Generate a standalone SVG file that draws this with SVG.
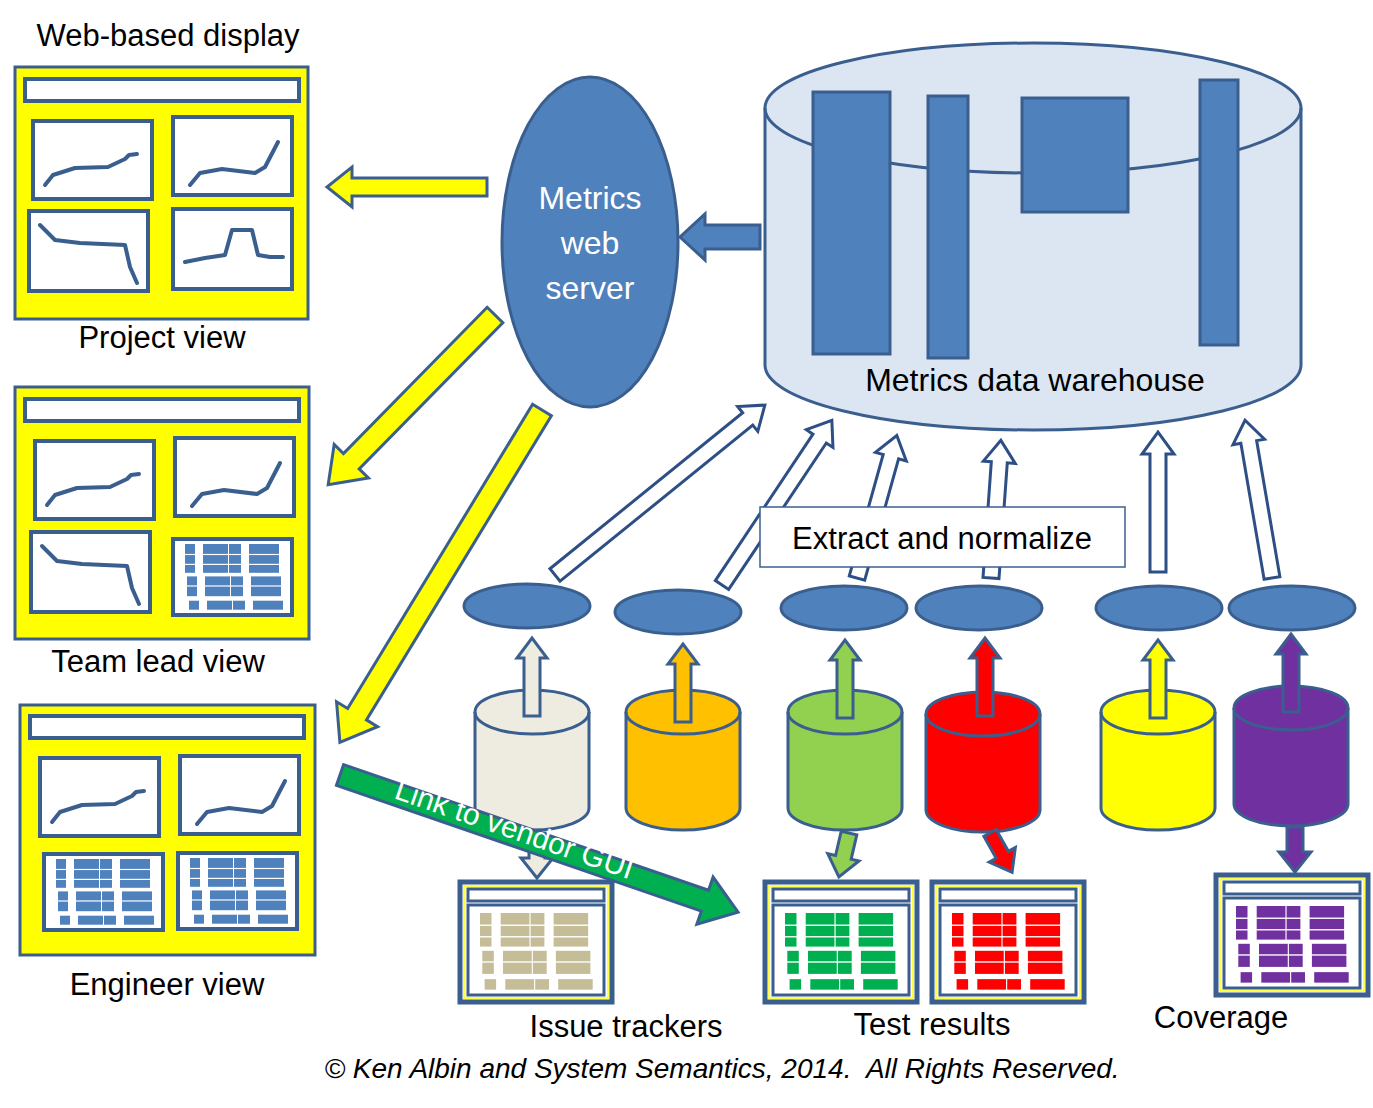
<svg xmlns="http://www.w3.org/2000/svg" xmlns:xlink="http://www.w3.org/1999/xlink" width="1373" height="1108" viewBox="0 0 1373 1108">
<style>
text{font-family:"Liberation Sans",Arial,sans-serif;fill:#000}
.pn{fill:#fff;stroke:#3a5f8f;stroke-width:4}
.ln{fill:none;stroke:#3a5f8f;stroke-width:4;stroke-linejoin:round;stroke-linecap:round}
.dash{fill:#ffff00;stroke:#3a5f8f;stroke-width:3}
.hol{fill:#fff;stroke:#2e4f86;stroke-width:3}
.yel{fill:#ffff00;stroke:#3a5f8f;stroke-width:3}
.blu{fill:#4f81bd;stroke:#3a5f8f;stroke-width:3}
.wt{fill:#fff;font-size:32px}
.lbl{font-size:31px}
</style>
<defs>
<g id="tbl">
<rect x="0" y="0" width="10" height="32"/><rect x="18" y="0" width="25" height="32"/><rect x="44" y="0" width="12" height="32"/><rect x="64" y="0" width="30" height="32"/>
<rect x="2" y="36" width="10" height="22"/><rect x="20" y="36" width="25" height="22"/><rect x="46" y="36" width="12" height="22"/><rect x="66" y="36" width="30" height="22"/>
<rect x="4" y="63" width="10" height="10"/><rect x="22" y="63" width="25" height="10"/><rect x="48" y="63" width="12" height="10"/><rect x="68" y="63" width="30" height="10"/>
<rect x="0" y="11" width="100" height="1.3" fill="#fff"/><rect x="0" y="22" width="100" height="1.3" fill="#fff"/><rect x="0" y="46" width="100" height="1.3" fill="#fff"/>
</g>
<g id="pA"><rect class="pn" x="0" y="0" width="119" height="78"/><polyline class="ln" points="12,64 20,54 42,47 75,46 92,38 96,34 104,33"/></g>
<g id="pB"><rect class="pn" x="0" y="0" width="119" height="78"/><polyline class="ln" points="17,68 27,56 49,52 82,56 92,50 105,25"/></g>
<g id="pC"><rect class="pn" x="0" y="0" width="119" height="80"/><polyline class="ln" points="11,14 26,29 51,32 96,34 101,56 108,72"/></g>
<g id="pD"><rect class="pn" x="0" y="0" width="119" height="80"/><polyline class="ln" points="12,53 32,49 52,46 59,21 79,21 85,46 97,48 110,48"/></g>
<g id="pT"><rect class="pn" x="0" y="0" width="119" height="76"/><use xlink:href="#tbl" fill="#4f81bd" transform="translate(12,5) scale(1.0,0.9)"/></g>
<g id="scr"><rect x="0" y="0" width="152" height="120" fill="#fff" stroke="#3a5f8f" stroke-width="5"/><rect x="4" y="4" width="144" height="112" fill="none" stroke="#ffff00" stroke-width="1.5"/><rect x="8" y="7" width="136" height="12" fill="#fff" stroke="#3a5f8f" stroke-width="3"/><rect x="8" y="23" width="136" height="90" fill="#fff" stroke="#3a5f8f" stroke-width="3"/></g>
</defs>

<g id="warehouse">
<path d="M765,108 L765,365 A268,65 0 0 0 1301,365 L1301,108 A268,65 0 0 0 765,108 Z" fill="#dce6f2" stroke="#3a5f8f" stroke-width="3"/>
<path d="M765,108 A268,65 0 0 0 1301,108" fill="none" stroke="#3a5f8f" stroke-width="3"/>
<rect class="blu" x="813" y="92" width="77" height="262"/>
<rect class="blu" x="928" y="96" width="40" height="262"/>
<rect class="blu" x="1022" y="98" width="106" height="114"/>
<rect class="blu" x="1200" y="80" width="38" height="265"/>
<text x="1035" y="391" text-anchor="middle" font-size="32">Metrics data warehouse</text>
</g>

<g id="connectors">
<polygon class="hol" points="0,-8 248,-8 248,-16 270,0 248,16 248,8 0,8" transform="translate(555,575) rotate(-39)"/>
<polygon class="hol" points="0,-8 176,-8 176,-16 198,0 176,16 176,8 0,8" transform="translate(722,585) rotate(-56.3)"/>
<polygon class="hol" points="0,-8 126,-8 126,-16 148,0 126,16 126,8 0,8" transform="translate(857,578) rotate(-74.4)"/>
<polygon class="hol" points="0,-8 116,-8 116,-16 138,0 116,16 116,8 0,8" transform="translate(991,578) rotate(-85.9)"/>
<polygon class="hol" points="0,-8 118,-8 118,-16 140,0 118,16 118,8 0,8" transform="translate(1158,572) rotate(-90)"/>
<polygon class="hol" points="0,-8 138,-8 138,-16 160,0 138,16 138,8 0,8" transform="translate(1272,578) rotate(-99.7)"/>
<polygon class="yel" points="0,-9 135,-9 135,-20 160,0 135,20 135,9 0,9" transform="translate(487,187) rotate(180)"/>
<polygon class="yel" points="0,-11 205,-11 205,-24 238,0 205,24 205,11 0,11" transform="translate(495,315) rotate(134.5)"/>
<polygon class="yel" points="0,-11 356,-11 356,-24 389,0 356,24 356,11 0,11" transform="translate(542,410) rotate(121.3)"/>
<polygon class="blu" points="0,-12 55,-12 55,-23 80,0 55,23 55,12 0,12" transform="translate(760,237) rotate(180)"/>
</g>

<g id="server">
<ellipse cx="590" cy="242" rx="88" ry="165" fill="#4f81bd" stroke="#3a5f8f" stroke-width="3"/>
<text class="wt" x="590" y="209" text-anchor="middle">Metrics</text>
<text class="wt" x="590" y="254" text-anchor="middle">web</text>
<text class="wt" x="590" y="299" text-anchor="middle">server</text>
</g>

<g id="extract">
<rect x="760" y="507" width="365" height="60" fill="#fff" stroke="#3a5f8f" stroke-width="1.5"/>
<text x="942" y="549" text-anchor="middle" font-size="31">Extract and normalize</text>
</g>

<g id="stages">
<ellipse class="blu" cx="527" cy="606" rx="63" ry="22"/>
<ellipse class="blu" cx="678" cy="612" rx="63" ry="22"/>
<ellipse class="blu" cx="844" cy="608" rx="63" ry="22"/>
<ellipse class="blu" cx="979" cy="608" rx="63" ry="22"/>
<ellipse class="blu" cx="1159" cy="608" rx="63" ry="22"/>
<ellipse class="blu" cx="1292" cy="608" rx="63" ry="22"/>
</g>

<g id="sources" stroke="#3a5f8f" stroke-width="3">
<path d="M475,712 L475,808 A57,22 0 0 0 589,808 L589,712 A57,22 0 0 0 475,712 Z" fill="#eeece1"/><path d="M475,712 A57,22 0 0 0 589,712" fill="none"/>
<path d="M626,712 L626,808 A57,22 0 0 0 740,808 L740,712 A57,22 0 0 0 626,712 Z" fill="#ffc000"/><path d="M626,712 A57,22 0 0 0 740,712" fill="none"/>
<path d="M788,712 L788,808 A57,22 0 0 0 902,808 L902,712 A57,22 0 0 0 788,712 Z" fill="#92d050"/><path d="M788,712 A57,22 0 0 0 902,712" fill="none"/>
<path d="M926,714 L926,810 A57,22 0 0 0 1040,810 L1040,714 A57,22 0 0 0 926,714 Z" fill="#ff0000"/><path d="M926,714 A57,22 0 0 0 1040,714" fill="none"/>
<path d="M1101,712 L1101,808 A57,22 0 0 0 1215,808 L1215,712 A57,22 0 0 0 1101,712 Z" fill="#ffff00"/><path d="M1101,712 A57,22 0 0 0 1215,712" fill="none"/>
<path d="M1234,708 L1234,804 A57,22 0 0 0 1348,804 L1348,708 A57,22 0 0 0 1234,708 Z" fill="#7030a0"/><path d="M1234,708 A57,22 0 0 0 1348,708" fill="none"/>
</g>

<g id="flows" stroke="#3a5f8f" stroke-width="3">
<polygon fill="#eeece1" points="0,-8 58,-8 58,-15 78,0 58,15 58,8 0,8" transform="translate(532,716) rotate(-90)"/>
<polygon fill="#ffc000" points="0,-8 58,-8 58,-15 78,0 58,15 58,8 0,8" transform="translate(683,722) rotate(-90)"/>
<polygon fill="#92d050" points="0,-8 58,-8 58,-15 78,0 58,15 58,8 0,8" transform="translate(845,718) rotate(-90)"/>
<polygon fill="#ff0000" points="0,-8 58,-8 58,-15 78,0 58,15 58,8 0,8" transform="translate(985,716) rotate(-90)"/>
<polygon fill="#ffff00" points="0,-8 58,-8 58,-15 78,0 58,15 58,8 0,8" transform="translate(1158,718) rotate(-90)"/>
<polygon fill="#7030a0" points="0,-8 58,-8 58,-15 78,0 58,15 58,8 0,8" transform="translate(1291,712) rotate(-90)"/>
<polygon fill="#eeece1" points="0,-8 25,-8 25,-16 45,0 25,16 25,8 0,8" transform="translate(537,833) rotate(90)"/>
<polygon fill="#92d050" points="0,-8 25,-8 25,-16 45,0 25,16 25,8 0,8" transform="translate(849,833) rotate(103)"/>
<polygon fill="#ff0000" points="0,-7 25,-7 25,-15 45,0 25,15 25,7 0,7" transform="translate(990,833) rotate(60.6)"/>
<polygon fill="#7030a0" points="0,-8 25,-8 25,-16 45,0 25,16 25,8 0,8" transform="translate(1295,827) rotate(90)"/>
<polygon fill="#00b050" points="0,-11 386,-11 386,-25 421,0 386,25 386,11 0,11" transform="translate(340,775) rotate(19)"/>
<text x="393" y="798" font-size="30" stroke="none" style="fill:#fff" transform="rotate(19 393 798)">Link to vendor  GUI</text>
</g>

<g id="issue-trackers"><use xlink:href="#scr" transform="translate(460,882)"/><use xlink:href="#tbl" fill="#c4bd97" transform="translate(480,913) scale(1.15,1.05)"/></g>
<g id="test-results-1"><use xlink:href="#scr" transform="translate(765,882)"/><use xlink:href="#tbl" fill="#00b050" transform="translate(785,913) scale(1.15,1.05)"/></g>
<g id="test-results-2"><use xlink:href="#scr" transform="translate(932,882)"/><use xlink:href="#tbl" fill="#ff0000" transform="translate(952,913) scale(1.15,1.05)"/></g>
<g id="coverage"><use xlink:href="#scr" transform="translate(1216,875)"/><use xlink:href="#tbl" fill="#7030a0" transform="translate(1236,906) scale(1.15,1.05)"/></g>

<g id="project-view">
<rect class="dash" x="15" y="67" width="293" height="252"/>
<rect class="pn" x="25" y="79" width="274" height="22" stroke-width="3"/>
<use xlink:href="#pA" x="33" y="121"/><use xlink:href="#pB" x="173" y="117"/>
<use xlink:href="#pC" x="29" y="211"/><use xlink:href="#pD" x="173" y="209"/>
</g>
<g id="team-lead-view">
<rect class="dash" x="15" y="387" width="294" height="252"/>
<rect class="pn" x="25" y="399" width="274" height="22" stroke-width="3"/>
<use xlink:href="#pA" x="35" y="441"/><use xlink:href="#pB" x="175" y="438"/>
<use xlink:href="#pC" x="31" y="532"/><use xlink:href="#pT" x="173" y="539"/>
</g>
<g id="engineer-view">
<rect class="dash" x="20" y="705" width="295" height="250"/>
<rect class="pn" x="30" y="716" width="274" height="22" stroke-width="3"/>
<use xlink:href="#pA" x="40" y="758"/><use xlink:href="#pB" x="180" y="756"/>
<use xlink:href="#pT" x="44" y="854"/><use xlink:href="#pT" x="178" y="853"/>
</g>

<g id="labels">
<text class="lbl" x="168" y="46" text-anchor="middle">Web-based display</text>
<text class="lbl" x="162" y="348" text-anchor="middle">Project view</text>
<text class="lbl" x="158" y="672" text-anchor="middle">Team lead view</text>
<text class="lbl" x="167" y="995" text-anchor="middle">Engineer view</text>
<text class="lbl" x="626" y="1037" text-anchor="middle">Issue trackers</text>
<text class="lbl" x="932" y="1035" text-anchor="middle">Test results</text>
<text class="lbl" x="1221" y="1028" text-anchor="middle">Coverage</text>
<text x="722" y="1078" text-anchor="middle" font-size="28" font-style="italic" xml:space="preserve">© Ken Albin and System Semantics, 2014.  All Rights Reserved.</text>
</g>
</svg>
